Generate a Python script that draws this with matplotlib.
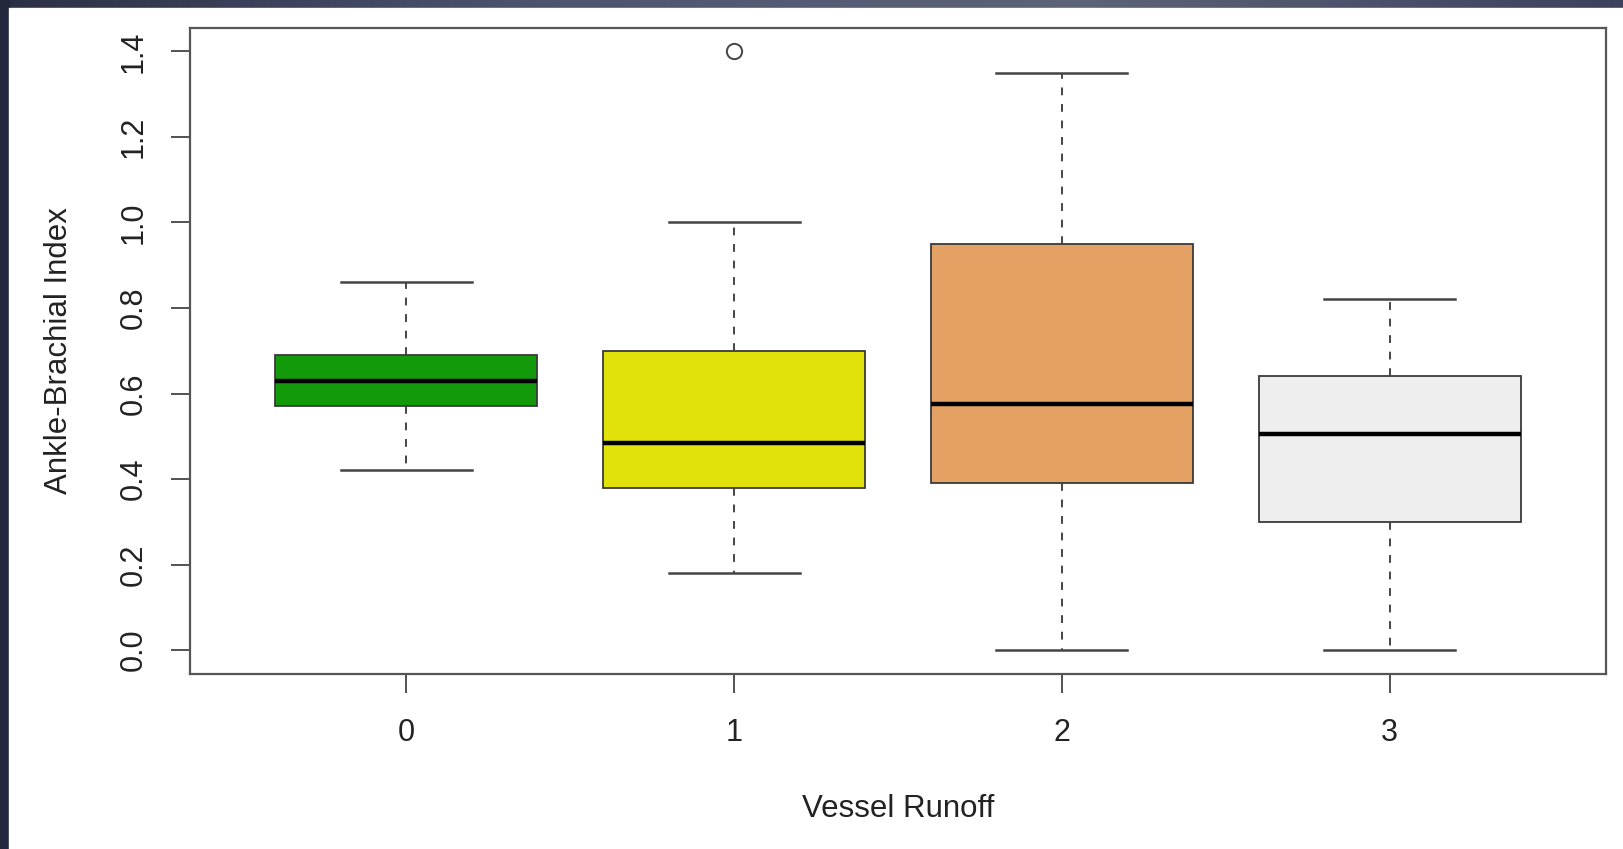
import numpy as np
import matplotlib
matplotlib.use("Agg")
import matplotlib.pyplot as plt
from matplotlib.patches import Rectangle

plt.rcParams["font.family"] = ["Liberation Sans", "DejaVu Sans"]

# five-number summaries per vessel runoff group
groups = ["0", "1", "2", "3"]
whisker_low = [0.42, 0.18, 0.00, 0.00]
q1 = [0.57, 0.38, 0.39, 0.30]
medians = [0.63, 0.485, 0.575, 0.505]
q3 = [0.69, 0.70, 0.95, 0.64]
whisker_high = [0.86, 1.00, 1.35, 0.82]
outliers = [[], [1.40], [], []]
box_colors = ["#139a0b", "#e0e20a", "#e3a263", "#eeeeee"]

W, H = 1623, 849
fig = plt.figure(figsize=(W / 100, H / 100), dpi=100)

# slide background: dark gradient bands at top and left edge
bg = fig.add_axes([0, 0, 1, 1], zorder=-10)
grad = np.linspace(0, 1, 256)
top_cols = np.array([[0.17, 0.19, 0.28], [0.30, 0.33, 0.43],
                     [0.36, 0.39, 0.48], [0.24, 0.26, 0.36]])
xs = np.linspace(0, 1, len(top_cols))
img = np.stack([np.interp(grad, xs, top_cols[:, c]) for c in range(3)], axis=-1)
bg.imshow(img[np.newaxis, :, :], aspect="auto", extent=[0, 1, 0, 1])
bg.add_patch(Rectangle((0, 0), 9 / W, 1, color="#23273c", transform=bg.transAxes))
bg.add_patch(Rectangle((9 / W, 0), 1, 1 - 8 / H, color="white", transform=bg.transAxes))
bg.set_xlim(0, 1)
bg.set_ylim(0, 1)
bg.axis("off")

ax = fig.add_axes([190 / W, 1 - 674 / H, (1606 - 190) / W, (674 - 27.5) / H])

stats = []
for i, g in enumerate(groups):
    stats.append({
        "label": g,
        "whislo": whisker_low[i],
        "q1": q1[i],
        "med": medians[i],
        "q3": q3[i],
        "whishi": whisker_high[i],
        "fliers": outliers[i],
    })

positions = np.arange(len(groups))
parts = ax.bxp(
    stats, positions=positions, widths=0.8, patch_artist=True,
    showfliers=True,
    boxprops=dict(edgecolor="#3a3a3a", linewidth=1.3),
    medianprops=dict(color="black", linewidth=3.2, solid_capstyle="butt"),
    whiskerprops=dict(color="#444444", linewidth=1.4, linestyle=(0, (4.0, 4.5))),
    capprops=dict(color="#444444", linewidth=1.8),
    flierprops=dict(marker="o", markersize=11, markerfacecolor="none",
                    markeredgecolor="#444444", markeredgewidth=1.4),
    capwidths=0.4,
)
for patch, col in zip(parts["boxes"], box_colors):
    patch.set_facecolor(col)

ax.set_xlim(-0.66, 3.66)
ax.set_ylim(-0.056, 1.456)
ax.set_yticks([0.0, 0.2, 0.4, 0.6, 0.8, 1.0, 1.2, 1.4])
ax.set_yticklabels(["0.0", "0.2", "0.4", "0.6", "0.8", "1.0", "1.2", "1.4"],
                   rotation=90, va="center")
ax.set_xticks(positions)
ax.set_xticklabels(groups)

for side in ["top", "right", "left", "bottom"]:
    ax.spines[side].set_color("#555555")
    ax.spines[side].set_linewidth(1.6)

ax.tick_params(axis="both", length=14, width=1.3, color="#444444",
               labelsize=22, labelcolor="#222222")
ax.tick_params(axis="x", pad=18)
ax.tick_params(axis="y", pad=16)

ax.set_xlabel("Vessel Runoff", fontsize=22.5, color="#222222", labelpad=33)
ax.set_ylabel("Ankle-Brachial Index", fontsize=22.5, color="#222222", labelpad=32)

fig.savefig("out.png", dpi=100)
